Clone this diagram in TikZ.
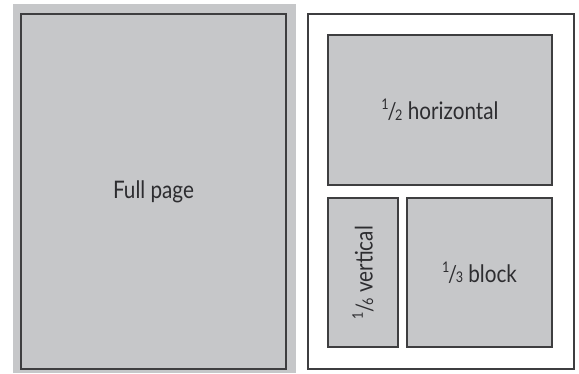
\documentclass[tikz,border=0pt]{standalone}
\usepackage{fontspec}
\setmainfont{Lato}
\definecolor{panelgray}{RGB}{198,199,201}
\definecolor{edgegray}{RGB}{62,62,64}
\definecolor{inkgray}{RGB}{45,45,48}
\newcommand{\myfrac}[2]{\raisebox{0.40em}{\fontsize{14}{14}\selectfont #1}\kern-0.06em{\fontsize{22}{22}\selectfont /}\kern-0.06em\raisebox{-0.02em}{\fontsize{14}{14}\selectfont #2}}
\tikzset{
  panel/.style={draw=edgegray, line width=1.6pt, fill=panelgray, text=inkgray, inner sep=0pt,
    font=\fontsize{23}{23}\selectfont},
}
\begin{document}
\begin{tikzpicture}[x=1pt,y=-1pt]
\useasboundingbox (0,0) rectangle (579,373);
\fill[panelgray] (13,4) rectangle (296,373);
\node[panel, minimum width=265pt, minimum height=355pt] (full) at (153.5,191.5) {\scalebox{0.9}[1.05]{Full page}};
\draw[edgegray, line width=1.6pt, fill=white] (308,14) rectangle (574,369);
\node[panel, minimum width=224pt, minimum height=150pt] (half) at (440,110) {\scalebox{0.9}[1.05]{\myfrac{1}{2} horizontal}};
\node[panel, rotate=90, minimum width=149pt, minimum height=70pt] (vert) at (363,272.5) {\scalebox{0.9}[1.05]{\myfrac{1}{6} vertical}};
\node[panel, minimum width=145pt, minimum height=149pt] (third) at (479.5,272.5) {\scalebox{0.9}[1.05]{\myfrac{1}{3} block}};
\end{tikzpicture}
\end{document}
